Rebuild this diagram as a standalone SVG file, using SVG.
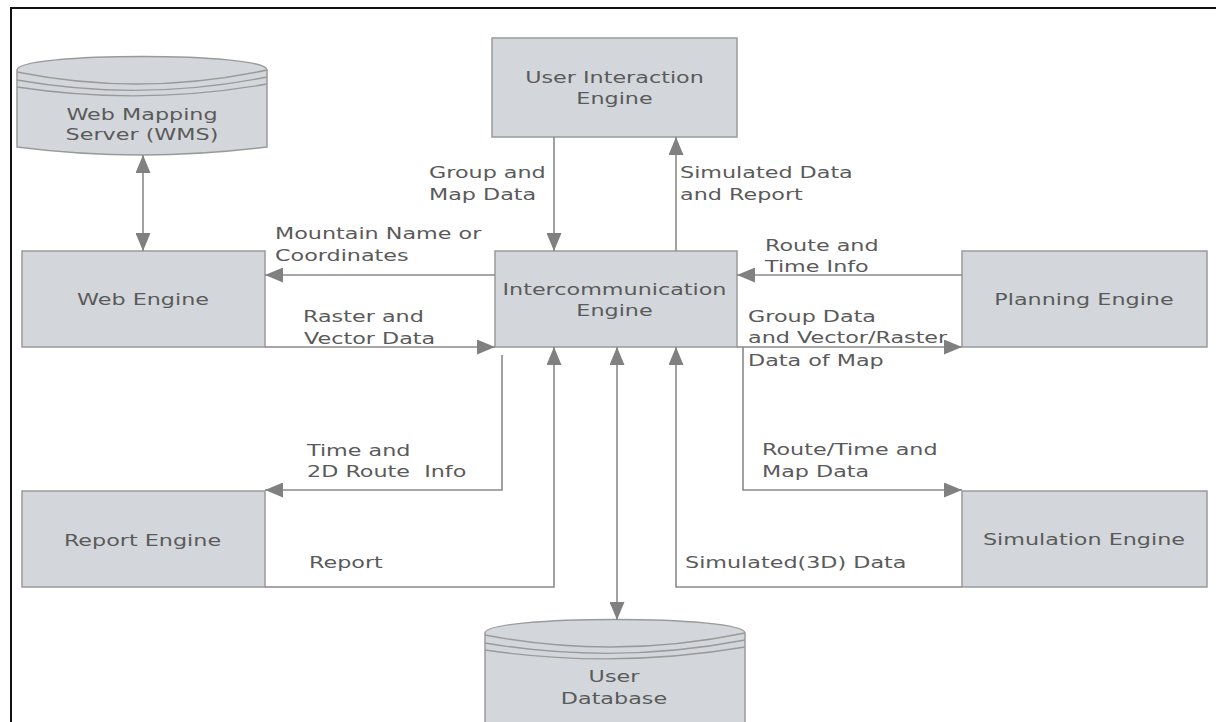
<svg xmlns="http://www.w3.org/2000/svg" width="1219" height="722" viewBox="0 0 1219 722">
<style>
.node{fill:#d3d7db;stroke:#9a9a9a;stroke-width:1.5}
.cyl{fill:none;stroke:#9a9a9a;stroke-width:1.3}
.t{font-family:"DejaVu Sans",Verdana,sans-serif;font-size:16.5px;fill:#5a5a5a}
.c{text-anchor:middle}
.edge{fill:none;stroke:#8a8a8a;stroke-width:1.6}
.frame{fill:none;stroke:#111;stroke-width:2}
</style>
<defs>
<marker id="arr" viewBox="0 0 18 15" refX="18" refY="7.5" markerWidth="18" markerHeight="15" markerUnits="userSpaceOnUse" orient="auto-start-reverse">
<path d="M0,0 L18,7.5 L0,15 z" fill="#808080"/>
</marker>
</defs>
<rect width="1219" height="722" fill="#fff"/>
<path class="frame" d="M10,8 L1216,8 M11,8 L11,722"/>

<g id="wms">
<path class="node" d="M17,70 C17,52 267,52 267,70 L267,147 Q142,163 17,147 Z"/>
<path class="cyl" d="M17,72 Q142,97 267,70 M17,80 Q142,102 267,77 M17,87 Q142,106 267,84"/>
<text class="t c" transform="scale(1.35 1)" x="105.19" y="120">Web Mapping</text>
<text class="t c" transform="scale(1.35 1)" x="105.19" y="140">Server (WMS)</text>
</g>

<g id="user-interaction">
<rect class="node" x="492" y="38" width="245" height="99"/>
<text class="t c" transform="scale(1.35 1)" x="455.19" y="83">User Interaction</text>
<text class="t c" transform="scale(1.35 1)" x="455.19" y="104">Engine</text>
</g>

<g id="intercommunication">
<rect class="node" x="495" y="251" width="242" height="96"/>
<text class="t c" transform="scale(1.35 1)" x="455.19" y="295">Intercommunication</text>
<text class="t c" transform="scale(1.35 1)" x="455.19" y="316">Engine</text>
</g>

<g id="web-engine">
<rect class="node" x="22" y="251" width="243" height="96"/>
<text class="t c" transform="scale(1.35 1)" x="105.93" y="305">Web Engine</text>
</g>

<g id="planning-engine">
<rect class="node" x="962" y="251" width="245" height="96"/>
<text class="t c" transform="scale(1.35 1)" x="802.96" y="305">Planning Engine</text>
</g>

<g id="report-engine">
<rect class="node" x="22" y="491" width="243" height="96"/>
<text class="t c" transform="scale(1.35 1)" x="105.56" y="546">Report Engine</text>
</g>

<g id="simulation-engine">
<rect class="node" x="962" y="491" width="245" height="96"/>
<text class="t c" transform="scale(1.35 1)" x="802.96" y="545">Simulation Engine</text>
</g>

<g id="user-database">
<path class="node" d="M485,633 C485,615 745,615 745,633 L745,730 L485,730 Z"/>
<path class="cyl" d="M485,635 Q615,660 745,633 M485,643 Q615,665 745,640 M485,650 Q615,669 745,647"/>
<text class="t c" transform="scale(1.35 1)" x="454.81" y="682">User</text>
<text class="t c" transform="scale(1.35 1)" x="454.81" y="704">Database</text>
</g>

<g id="connectors">
<path class="edge" d="M143,155 L143,251" marker-start="url(#arr)" marker-end="url(#arr)"/>
<path class="edge" d="M554,137 L554,251" marker-end="url(#arr)"/>
<path class="edge" d="M676,251 L676,137" marker-end="url(#arr)"/>
<path class="edge" d="M495,275 L265,275" marker-end="url(#arr)"/>
<path class="edge" d="M265,347 L495,347" marker-end="url(#arr)"/>
<path class="edge" d="M962,275 L737,275" marker-end="url(#arr)"/>
<path class="edge" d="M737,347 L962,347" marker-end="url(#arr)"/>
<path class="edge" d="M743,347 L743,490 L962,490" marker-end="url(#arr)"/>
<path class="edge" d="M962,587 L676,587 L676,347" marker-end="url(#arr)"/>
<path class="edge" d="M617,347 L617,620" marker-start="url(#arr)" marker-end="url(#arr)"/>
<path class="edge" d="M265,587 L554,587 L554,347" marker-end="url(#arr)"/>
<path class="edge" d="M502,355 L502,490 L265,490" marker-end="url(#arr)"/>

<text class="t" transform="scale(1.35 1)" x="317.78" y="178">Group and</text>
<text class="t" transform="scale(1.35 1)" x="317.78" y="200">Map Data</text>
<text class="t" transform="scale(1.35 1)" x="503.70" y="178">Simulated Data</text>
<text class="t" transform="scale(1.35 1)" x="503.70" y="200">and Report</text>
<text class="t" transform="scale(1.35 1)" x="203.70" y="239">Mountain Name or</text>
<text class="t" transform="scale(1.35 1)" x="203.70" y="261">Coordinates</text>
<text class="t" transform="scale(1.35 1)" x="224.44" y="322">Raster and</text>
<text class="t" transform="scale(1.35 1)" x="225.19" y="344">Vector Data</text>
<text class="t" transform="scale(1.35 1)" x="566.67" y="251">Route and</text>
<text class="t" transform="scale(1.35 1)" x="566.67" y="272">Time Info</text>
<text class="t" transform="scale(1.35 1)" x="554.07" y="322">Group Data</text>
<text class="t" transform="scale(1.35 1)" x="554.07" y="343">and Vector/Raster</text>
<text class="t" transform="scale(1.35 1)" x="554.07" y="366">Data of Map</text>
<text class="t" transform="scale(1.35 1)" x="564.44" y="455">Route/Time and</text>
<text class="t" transform="scale(1.35 1)" x="564.44" y="477">Map Data</text>
<text class="t" transform="scale(1.35 1)" x="507.41" y="568">Simulated(3D) Data</text>
<text class="t" transform="scale(1.35 1)" x="227.41" y="456">Time and</text>
<text class="t" transform="scale(1.35 1)" x="227.41" y="477" style="white-space:pre">2D Route  Info</text>
<text class="t" transform="scale(1.35 1)" x="228.89" y="568">Report</text>
</g>
</svg>
